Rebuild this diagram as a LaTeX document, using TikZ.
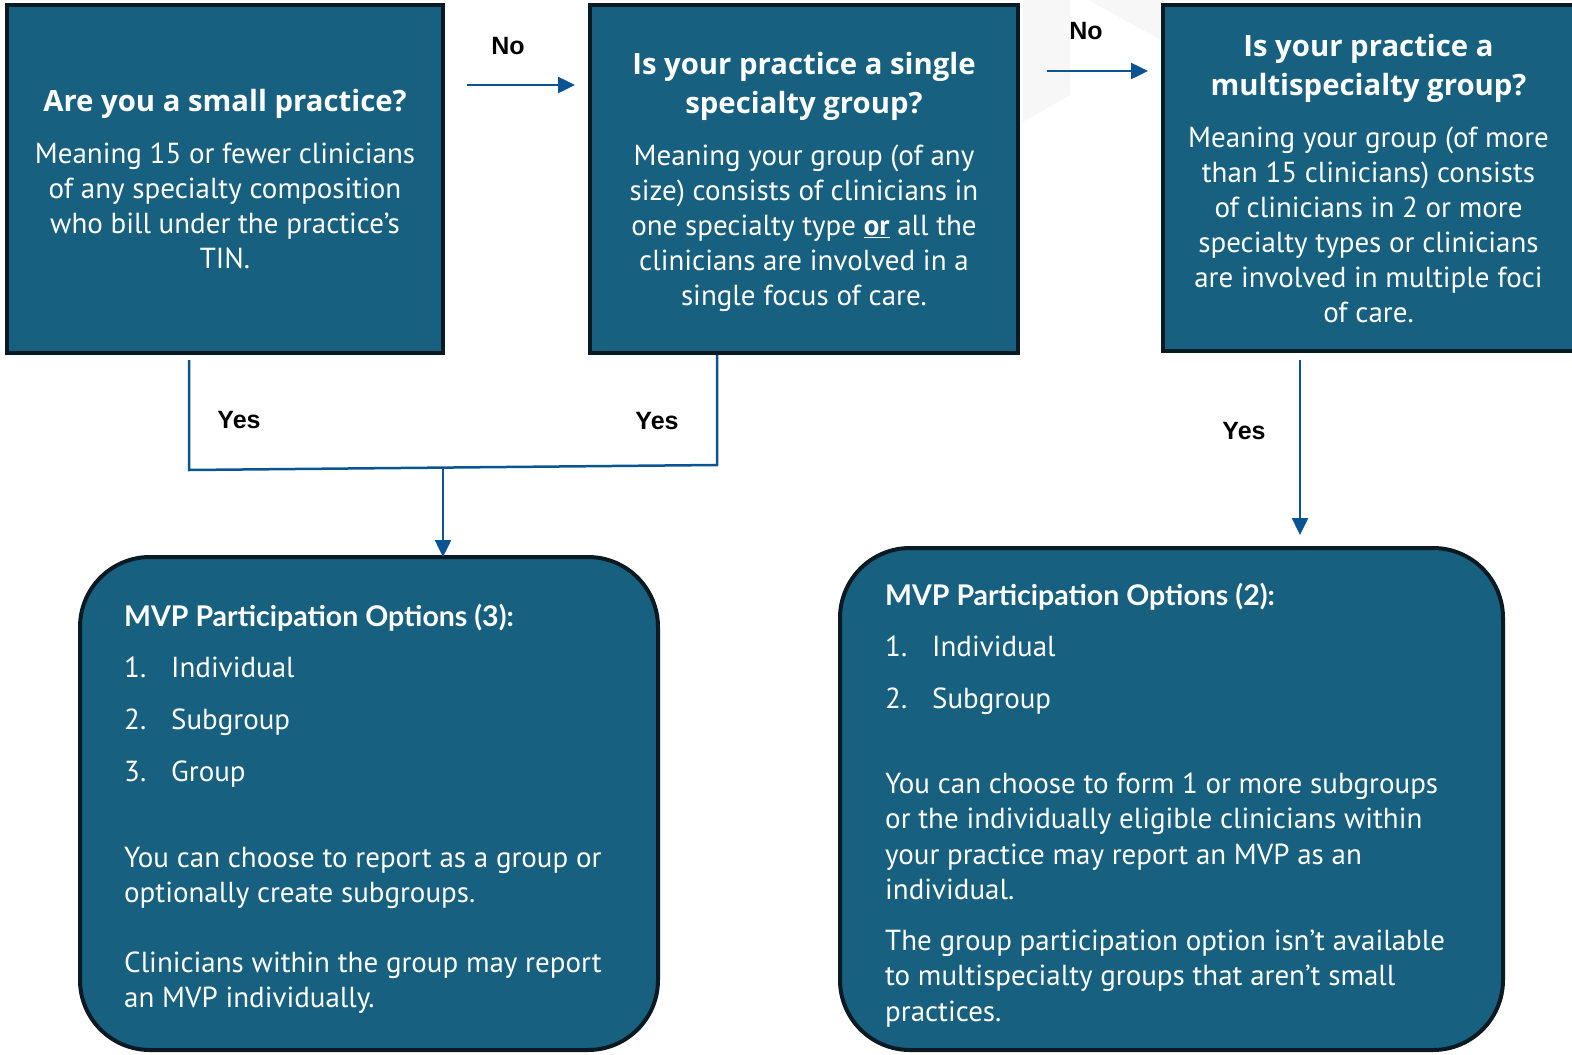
\documentclass[tikz,border=0pt]{standalone}
\usepackage{fontspec}
\setmainfont{PT Sans}
\newfontfamily\headfont{Open Sans}
\newfontfamily\mvpfont{Lato}
\newfontfamily\labelfont{Liberation Sans}
\usetikzlibrary{arrows.meta,positioning}
\definecolor{boxblue}{HTML}{17607F}
\definecolor{boxline}{HTML}{0A1A22}
\definecolor{flowblue}{HTML}{0B5494}
\tikzset{
  qbox/.style={draw=boxline, line width=4pt, fill=boxblue, inner sep=0pt, outer sep=0pt},
  qtext/.style={text=white, align=center, inner sep=0pt, font=\fontsize{29}{35}\selectfont},
  optbox/.style={draw=boxline, line width=4pt, fill=boxblue, rounded corners=70pt, inner sep=0pt, outer sep=0pt},
  opttext/.style={text=white, align=left, anchor=north west, inner sep=0pt, font=\fontsize{29}{35}\selectfont},
  flow/.style={draw=flowblue, line width=2.5pt},
  flowarr/.style={flow, -{Triangle[length=17pt,width=16pt]}},
  answer/.style={font=\labelfont\bfseries\fontsize{25}{30}\selectfont},
}
\newcommand{\qhead}[1]{{\headfont\bfseries\fontsize{29.3}{35}\selectfont #1}}
\newcommand{\mvphead}[1]{{\mvpfont\bfseries\fontsize{28.5}{35}\selectfont #1}}
\newcommand{\optitem}[2]{\makebox[47pt][l]{#1}#2}
\begin{document}
\begin{tikzpicture}[x=1pt,y=-1pt]
\useasboundingbox (0,0) rectangle (1572,1055);
% faint shading behind the second "No"
\fill[gray!6] (1023,0) -- (1070,0) -- (1070,95) -- (1023,122) -- cycle;
\fill[gray!6] (1088,0) -- (1165,0) -- (1165,42) -- cycle;

% questions
\node[qbox, minimum width=436pt, minimum height=348pt] (small) at (225,179) {};
\node[qtext] (smalltxt) at (225,179.5)
  {\qhead{Are you a small practice?}\\[17pt]
   Meaning 15 or fewer clinicians\\
   of any specialty composition\\
   who bill under the practice’s\\
   TIN.};
\node[qbox, minimum width=428pt, minimum height=348pt] (single) at (804,179) {};
\node[qtext] (singletxt) at (804,182)
  {\qhead{Is your practice a single}\\[4pt]
   \qhead{specialty group?}\\[17pt]
   Meaning your group (of any\\
   size) consists of clinicians in\\
   one specialty type \underline{\textbf{or}} all the\\
   clinicians are involved in a\\
   single focus of care.};
\node[qbox, minimum width=411pt, minimum height=346pt] (multi) at (1368.5,178) {};
\node[qtext] (multitxt) at (1368.5,179)
  {\qhead{Is your practice a}\\[4pt]
   \qhead{multispecialty group?}\\[17pt]
   Meaning your group (of more\\
   than 15 clinicians) consists\\
   of clinicians in 2 or more\\
   specialty types or clinicians\\
   are involved in multiple foci\\
   of care.};

% options
\node[optbox, minimum width=578pt, minimum height=493pt] (opt3) at (369,803.5) {};
\node[opttext] (opt3txt) at (124,604)
  {\mvphead{MVP Participation Options (3):}\\[16pt]
   \optitem{1.}{Individual}\\[17pt]
   \optitem{2.}{Subgroup}\\[17pt]
   \optitem{3.}{Group}\\[51pt]
   You can choose to report as a group or\\
   optionally create subgroups.\\[35pt]
   Clinicians within the group may report\\
   an MVP individually.};
\node[optbox, minimum width=663pt, minimum height=502pt] (opt2) at (1171.5,799) {};
\node[opttext] (opt2txt) at (885,583)
  {\mvphead{MVP Participation Options (2):}\\[16pt]
   \optitem{1.}{Individual}\\[17pt]
   \optitem{2.}{Subgroup}\\[50pt]
   You can choose to form 1 or more subgroups\\[0.3pt]
   or the individually eligible clinicians within\\[0.3pt]
   your practice may report an MVP as an\\[0.3pt]
   individual.\\[16pt]
   The group participation option isn’t available\\[0.3pt]
   to multispecialty groups that aren’t small\\[0.3pt]
   practices.};

% connectors
\draw[flowarr] ([shift={(24pt,-80pt)}]small.north east) -- ([shift={(-15pt,-80pt)}]single.north west);
\node[answer] (no1) at (508,46) {No};
\draw[flowarr] ([shift={(29pt,-66pt)}]single.north east) -- ([shift={(-15pt,-66pt)}]multi.north west);
\node[answer] (no2) at (1086,31) {No};

\coordinate (joinL) at (189,470);
\coordinate (joinR) at (717,465);
\coordinate (joinM) at (443,468);
\draw[flow] ([shift={(-36pt,-7pt)}]small.south) -- (joinL) -- (joinR) -- ([shift={(-87pt,-2pt)}]single.south);
\draw[flowarr] (joinM) -- ([xshift=74pt]opt3.north);
\node[answer] (yes1) at (239,420) {Yes};
\node[answer] (yes2) at (657,421) {Yes};

\draw[flowarr] ([shift={(-68.5pt,-9pt)}]multi.south) -- ([shift={(128.5pt,13pt)}]opt2.north);
\node[answer] (yes3) at (1244,431) {Yes};
\end{tikzpicture}
\end{document}
